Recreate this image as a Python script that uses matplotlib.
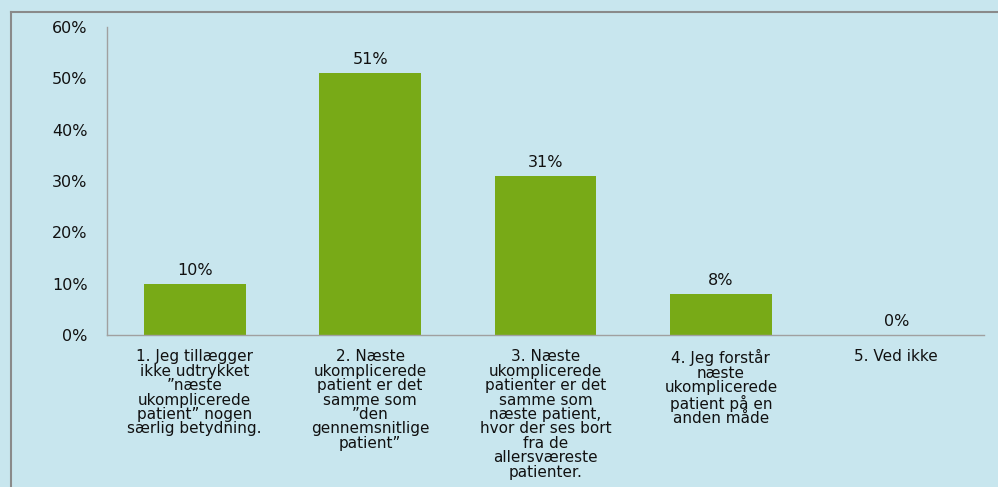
import matplotlib.pyplot as plt
from matplotlib.lines import Line2D
import numpy as np

# Survey answers and share of respondents (%)
categories = [
    '1. Jeg tillægger\nikke udtrykket\n”næste\nukomplicerede\npatient” nogen\nsærlig betydning.',
    '2. Næste\nukomplicerede\npatient er det\nsamme som\n”den\ngennemsnitlige\npatient”',
    '3. Næste\nukomplicerede\npatienter er det\nsamme som\nnæste patient,\nhvor der ses bort\nfra de\nallersværeste\npatienter.',
    '4. Jeg forstår\nnæste\nukomplicerede\npatient på en\nanden måde',
    '5. Ved ikke',
]
shares = [10, 51, 31, 8, 0]
yticks = [0, 10, 20, 30, 40, 50, 60]

bg = '#C8E6EE'
bar_color = '#78AA17'
font = 'DejaVu Sans'

fig = plt.figure(figsize=(9.98, 4.87), dpi=100, facecolor=bg)
ax = fig.add_axes([0.1072, 0.3121, 0.8788, 0.6325])
ax.set_facecolor(bg)

x = np.arange(len(categories))
ax.bar(x, shares, width=0.58, color=bar_color, zorder=2)

for xi, v in zip(x, shares):
    ax.text(xi, v + 1.2, f'{v}%', ha='center', va='bottom',
            fontsize=11.5, family=font, color='#111111')

ax.set_xlim(-0.5, len(categories) - 0.5)
ax.set_ylim(0, 60)
ax.set_yticks(yticks)
ax.set_yticklabels([f'{t}%' for t in yticks], fontsize=11.5, family=font,
                   color='#111111')
ax.tick_params(axis='y', length=0, pad=14)
ax.set_xticks([])

for xi, lab in zip(x, categories):
    ax.text(xi, -2.8, lab, ha='center', va='top', fontsize=11,
            family=font, color='#111111', linespacing=0.95)

for side in ['top', 'right']:
    ax.spines[side].set_visible(False)
for side in ['left', 'bottom']:
    ax.spines[side].set_color('#A0A0A0')
    ax.spines[side].set_linewidth(1.0)

# outer frame, open to the right and bottom
fig.add_artist(Line2D([11 / 998, 11 / 998], [0, 1 - 12 / 487],
                      color='#8A8A8A', lw=1.5))
fig.add_artist(Line2D([11 / 998, 1], [1 - 12 / 487, 1 - 12 / 487],
                      color='#8A8A8A', lw=1.5))

fig.savefig('out.png', dpi=100, facecolor=bg)
